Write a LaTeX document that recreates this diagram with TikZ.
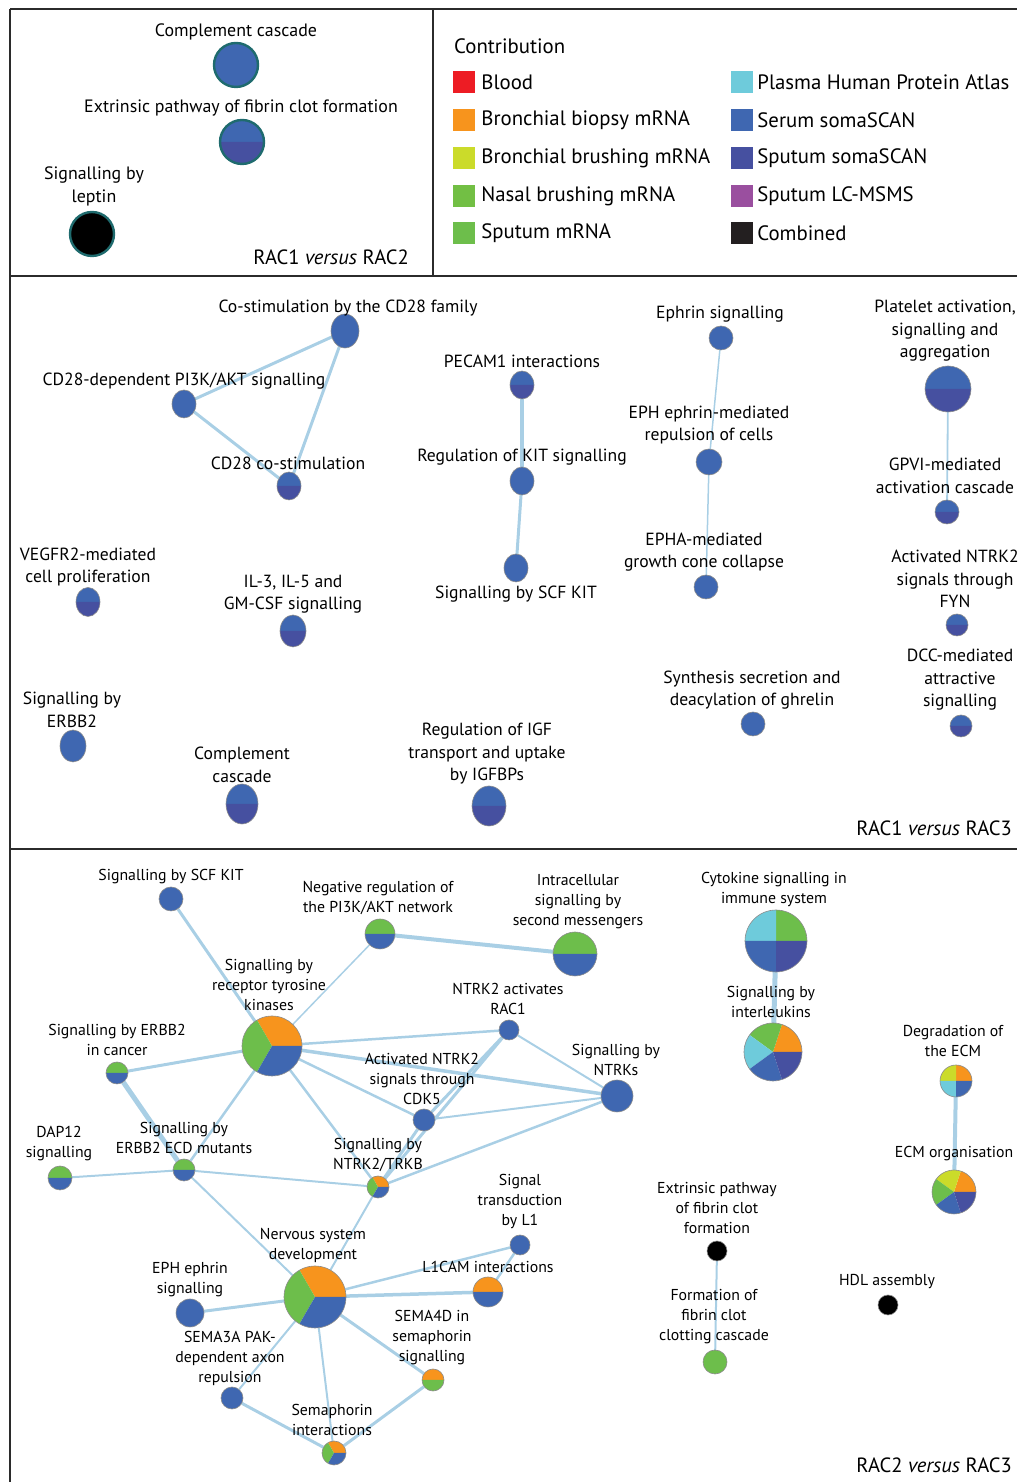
\documentclass[tikz,border=0pt]{standalone}
\usepackage{fontspec}
\setmainfont{PT Sans}
\usetikzlibrary{positioning,backgrounds}

\definecolor{cBlood}{HTML}{ED1C24}
\definecolor{cBiopsy}{HTML}{F7941D}
\definecolor{cBrush}{HTML}{CBDB2A}
\definecolor{cNasal}{HTML}{72BF44}
\definecolor{cSputum}{HTML}{6DBE4B}
\definecolor{cPlasma}{HTML}{6ECBDB}
\definecolor{cSerum}{HTML}{3F67B1}
\definecolor{cSomaSp}{HTML}{4650A0}
\definecolor{cLCMS}{HTML}{9A4F9F}
\definecolor{cComb}{HTML}{231F20}
\definecolor{cEdge}{HTML}{A9CFE5}
\definecolor{cRing}{HTML}{1F6B6E}
\definecolor{cFrame}{HTML}{2B2B2B}

\tikzset{
  pieline/.style={draw=black!45, line width=0.6pt},
  ring/.style={draw=cRing, line width=2.4pt},
  edge/.style={draw=cEdge, line width=#1},
  edge/.default=2pt,
  frame/.style={draw=cFrame, line width=1.5pt},
  lblT/.style={font=\fontsize{17.9}{23}\selectfont, align=center, inner sep=0pt},
  lblM/.style={font=\fontsize{17.6}{22.5}\selectfont, align=center, inner sep=0pt},
  lblB/.style={font=\fontsize{15.8}{20}\selectfont, align=center, inner sep=0pt},
  paneltitle/.style={font=\fontsize{20.6}{24}\selectfont, anchor=east, inner sep=0pt},
  legbox/.style={minimum size=22pt, inner sep=0pt},
  legtxt/.style={font=\fontsize{20.8}{24}\selectfont, inner sep=0pt, anchor=west},
}

% #1 outline style, #2 name, #3 centre, #4 x radius, #5 y radius, #6 slices, #7 colours
\newcommand{\pienode}[7][pieline]{%
  \node[circle, inner sep=0pt, minimum size={2*#4}] (#2) at (#3) {};
  \foreach \col [count=\k from 0] in {#7}
    \fill[\col] (#2.center) -- ++({\k*360/#6}:#4 and #5)
      arc[start angle={\k*360/#6}, delta angle={360/#6}, x radius=#4, y radius=#5] -- cycle;
  \draw[#1] (#2.center) ellipse[x radius=#4, y radius=#5];
}

\begin{document}
\begin{tikzpicture}[x=1pt,y=1pt]
\useasboundingbox (0,0) rectangle (1017,1482);

% frames
\draw[frame] (10,1473) -- (1017,1473);
\draw[frame] (10,1473) -- (10,0);
\draw[frame] (433,1473) -- (433,1206);
\draw[frame] (10,1206) -- (1017,1206);
\draw[frame] (10,633) -- (1017,633);

% RAC1 versus RAC2
\pienode[ring]{ccA}{236,1417}{22}{22}{1}{cSerum}
\pienode[ring]{extA}{242,1340}{22}{22}{2}{cSerum,cSomaSp}
\pienode[ring]{lepA}{92,1248}{22}{22}{1}{black}
\node[lblT] (tccA) at (236,1450) {Complement cascade};
\node[lblT] (textA) at (241,1374) {Extrinsic pathway of fibrin clot formation};
\node[lblT] (tlepA) at (94,1296) {Signalling by\\leptin};
\node[paneltitle] (ttlA) at (409,1225) {RAC1 \textit{versus} RAC2};

% legend
\node[legtxt] (tcontr) at (454,1436) {Contribution};
\node[legbox, fill=cBlood] (kBlood) at (464,1400) {};
\node[legtxt, right=6pt of kBlood] (tBlood) {Blood};
\node[legbox, fill=cBiopsy] (kBiopsy) at (464,1362) {};
\node[legtxt, right=6pt of kBiopsy] (tBiopsy) {Bronchial biopsy mRNA};
\node[legbox, fill=cBrush] (kBrush) at (464,1324) {};
\node[legtxt, right=6pt of kBrush] (tBrush) {Bronchial brushing mRNA};
\node[legbox, fill=cNasal] (kNasal) at (464,1286) {};
\node[legtxt, right=6pt of kNasal] (tNasal) {Nasal brushing mRNA};
\node[legbox, fill=cSputum] (kSputum) at (464,1249) {};
\node[legtxt, right=6pt of kSputum] (tSputum) {Sputum mRNA};
\node[legbox, fill=cPlasma] (kPlasma) at (742,1400) {};
\node[legtxt, right=4pt of kPlasma] (tPlasma) {Plasma Human Protein Atlas};
\node[legbox, fill=cSerum] (kSerum) at (742,1362) {};
\node[legtxt, right=4pt of kSerum] (tSerum) {Serum somaSCAN};
\node[legbox, fill=cSomaSp] (kSomaSp) at (742,1324) {};
\node[legtxt, right=4pt of kSomaSp] (tSomaSp) {Sputum somaSCAN};
\node[legbox, fill=cLCMS] (kLCMS) at (742,1286) {};
\node[legtxt, right=4pt of kLCMS] (tLCMS) {Sputum LC-MSMS};
\node[legbox, fill=cComb] (kComb) at (742,1249) {};
\node[legtxt, right=4pt of kComb] (tComb) {Combined};

% RAC1 versus RAC3
\pienode{costim}{345,1151}{14}{17}{1}{cSerum}
\pienode{cdpi}{184,1078}{12}{14}{1}{cSerum}
\pienode{cdcos}{289,996}{12}{14}{2}{cSerum,cSomaSp}
\pienode{pecam}{522,1097}{12}{14}{2}{cSerum,cSomaSp}
\pienode{regkit}{522,1001}{12}{14}{1}{cSerum}
\pienode{scfkit}{516,914}{12}{14}{1}{cSerum}
\pienode{ephrin}{721,1144}{12}{12}{1}{cSerum}
\pienode{ephrep}{709,1020}{13}{13}{1}{cSerum}
\pienode{epha}{706,895}{12}{12}{1}{cSerum}
\pienode{plat}{948,1093}{23}{23}{2}{cSerum,cSomaSp}
\pienode{gpvi}{947,970}{12}{12}{2}{cSerum,cSomaSp}
\pienode{fyn}{957,857}{11}{11}{2}{cSerum,cSomaSp}
\pienode{dcc}{961,756}{11}{11}{2}{cSerum,cSomaSp}
\pienode{vegf}{88,880}{12}{14.5}{2}{cSerum,cSomaSp}
\pienode{ilgm}{293,851}{13}{16}{2}{cSerum,cSomaSp}
\pienode{erbb}{73,736}{13}{16}{1}{cSerum}
\pienode{ccM}{242,678}{16}{20}{2}{cSerum,cSomaSp}
\pienode{igf}{489,676}{17}{20}{2}{cSerum,cSomaSp}
\pienode{ghrel}{753,758}{12}{12}{1}{cSerum}
\begin{scope}[on background layer]
\draw[edge=3pt] (costim) -- (cdpi);
\draw[edge=3pt] (costim) -- (cdcos);
\draw[edge=3pt] (cdpi) -- (cdcos);
\draw[edge=3.5pt] (pecam) -- (regkit);
\draw[edge=3pt] (regkit) -- (scfkit);
\draw[edge=1.5pt] (ephrin) -- (ephrep);
\draw[edge=1.5pt] (ephrep) -- (epha);
\draw[edge=1.8pt] (plat) -- (gpvi);
\end{scope}
\node[lblM] (tcostim) at (348,1174) {Co-stimulation by the CD28 family};
\node[lblM] (tcdpi) at (184,1101) {CD28-dependent PI3K/AKT signalling};
\node[lblM] (tcdcos) at (288,1019) {CD28 co-stimulation};
\node[lblM] (tpecam) at (522,1121) {PECAM1 interactions};
\node[lblM] (tregkit) at (522,1025) {Regulation of KIT signalling};
\node[lblM] (tscfkit) at (516,888) {Signalling by SCF KIT};
\node[lblM] (tephrin) at (720,1168) {Ephrin signalling};
\node[lblM] (tephrep) at (709,1057) {EPH ephrin-mediated\\repulsion of cells};
\node[lblM] (tepha) at (704,930) {EPHA-mediated\\growth cone collapse};
\node[lblM] (tplat) at (945,1151) {Platelet activation,\\signalling and\\aggregation};
\node[lblM] (tgpvi) at (945,1006) {GPVI-mediated\\activation cascade};
\node[lblM] (tfyn) at (955,903) {Activated NTRK2\\signals through\\FYN};
\node[lblM] (tdcc) at (960,802) {DCC-mediated\\attractive\\signalling};
\node[lblM] (tvegf) at (88,915) {VEGFR2-mediated\\cell proliferation};
\node[lblM] (tilgm) at (293,888) {IL-3, IL-5 and\\GM-CSF signalling};
\node[lblM] (terbb) at (72,772) {Signalling by\\ERBB2};
\node[lblM] (tccM) at (242,717) {Complement\\cascade};
\node[lblM] (tigf) at (487,728) {Regulation of IGF\\transport and uptake\\by IGFBPs};
\node[lblM] (tghrel) at (752,792) {Synthesis secretion and\\deacylation of ghrelin};
\node[paneltitle] (ttlB) at (1012,654) {RAC1 \textit{versus} RAC3};

% RAC2 versus RAC3
\pienode{scfB}{171,583}{12}{12}{1}{cSerum}
\pienode{negreg}{380,548}{15}{15}{2}{cSputum,cSerum}
\pienode{intra}{575,528}{22}{22}{2}{cSputum,cSerum}
\pienode{rtk}{272,436}{30}{30}{3}{cBiopsy,cSputum,cSerum}
\pienode{erbbc}{117,409}{11}{11}{2}{cSputum,cSerum}
\pienode{dap}{60,304}{12}{12}{2}{cSputum,cSerum}
\pienode{ecd}{184,312}{11}{11}{2}{cSputum,cSerum}
\pienode{rac}{509,452}{10}{10}{1}{cSerum}
\pienode{ntrks}{617,386}{16}{16}{1}{cSerum}
\pienode{cdk}{424,362}{11}{11}{1}{cSerum}
\pienode{trkb}{378,295}{11}{11}{3}{cBiopsy,cSputum,cSerum}
\pienode{nsd}{315,185}{31}{31}{3}{cBiopsy,cSputum,cSerum}
\pienode{ephB}{190,169}{14}{14}{1}{cSerum}
\pienode{semaA}{232,84}{11}{11}{1}{cSerum}
\pienode{semint}{334,29}{12}{12}{3}{cBiopsy,cSputum,cSerum}
\pienode{semaD}{433,102}{11}{11}{2}{cBiopsy,cSputum}
\pienode{lcam}{488,190}{15}{15}{2}{cBiopsy,cSerum}
\pienode{lone}{520,237}{10}{10}{1}{cSerum}
\pienode{cyto}{776,541}{31}{31}{4}{cSputum,cPlasma,cSerum,cSomaSp}
\pienode{ilk}{773,430}{29}{29}{5}{cBiopsy,cSputum,cPlasma,cSerum,cSomaSp}
\pienode{degecm}{956,401}{16}{16}{4}{cBiopsy,cBrush,cPlasma,cSerum}
\pienode{ecmorg}{954,290}{22}{22}{5}{cBiopsy,cBrush,cSputum,cSerum,cSomaSp}
\pienode{extB}{717,231}{10}{10}{1}{black}
\pienode{fclot}{715,120}{12}{12}{1}{cSputum}
\pienode{hdl}{888,177}{10}{10}{1}{black}
\begin{scope}[on background layer]
\draw[edge=3pt] (scfB) -- (rtk);
\draw[edge=1.5pt] (negreg) -- (rtk);
\draw[edge=4pt] (negreg) -- (intra);
\draw[edge=3pt] (rtk) -- (erbbc);
\draw[edge=2.5pt] (rtk) -- (rac);
\draw[edge=3.5pt] (rtk) -- (ntrks);
\draw[edge=2.5pt] (rtk) -- (cdk);
\draw[edge=2.5pt] (rtk) -- (trkb);
\draw[edge=2.5pt] (rtk) -- (ecd);
\draw[edge=5pt] (erbbc) -- (ecd);
\draw[edge=2pt] (dap) -- (ecd);
\draw[edge=2pt] (ecd) -- (trkb);
\draw[edge=2pt] (ecd) -- (nsd);
\draw[edge=2pt] (trkb) -- (nsd);
\draw[edge=2pt] (rac) -- (ntrks);
\draw[edge=3pt] (rac) -- (cdk);
\draw[edge=3pt] (rac) -- (trkb);
\draw[edge=2pt] (cdk) -- (ntrks);
\draw[edge=3pt] (cdk) -- (trkb);
\draw[edge=2.5pt] (trkb) -- (ntrks);
\draw[edge=3pt] (nsd) -- (ephB);
\draw[edge=3.5pt] (nsd) -- (lcam);
\draw[edge=2.5pt] (nsd) -- (lone);
\draw[edge=2.5pt] (lcam) -- (lone);
\draw[edge=2pt] (nsd) -- (semaA);
\draw[edge=2pt] (nsd) -- (semint);
\draw[edge=3pt] (nsd) -- (semaD);
\draw[edge=3pt] (semaA) -- (semint);
\draw[edge=3pt] (semaD) -- (semint);
\draw[edge=5pt] (cyto) -- (ilk);
\draw[edge=4pt] (degecm) -- (ecmorg);
\draw[edge=2pt] (extB) -- (fclot);
\end{scope}
\node[lblB] (tscfB) at (171,605) {Signalling by SCF KIT};
\node[lblB] (tnegreg) at (378,584) {Negative regulation of\\the PI3K/AKT network};
\node[lblB] (tintra) at (578,580) {Intracellular\\signalling by\\second messengers};
\node[lblB] (trtk) at (269,497) {Signalling by\\receptor tyrosine\\kinases};
\node[lblB] (terbbc) at (117,442) {Signalling by ERBB2\\in cancer};
\node[lblB] (tdap) at (59,338) {DAP12\\signalling};
\node[lblB] (tecd) at (184,344) {Signalling by\\ERBB2 ECD mutants};
\node[lblB] (trac) at (508,483) {NTRK2 activates\\RAC1};
\node[lblB] (tntrks) at (616,422) {Signalling by\\NTRKs};
\node[lblB] (tcdk) at (422,403) {Activated NTRK2\\signals through\\CDK5};
\node[lblB] (ttrkb) at (378,327) {Signalling by\\NTRK2/TRKB};
\node[lblB] (tnsd) at (313,237) {Nervous system\\development};
\node[lblB] (tephB) at (190,202) {EPH ephrin\\signalling};
\node[lblB] (tsemaA) at (230,124) {SEMA3A PAK-\\dependent axon\\repulsion};
\node[lblB] (tsemint) at (332,62) {Semaphorin\\interactions};
\node[lblB] (tsemaD) at (432,144) {SEMA4D in\\semaphorin\\signalling};
\node[lblB] (tlcam) at (488,215) {L1CAM interactions};
\node[lblB] (tlone) at (520,281) {Signal\\transduction\\by L1};
\node[lblB] (tcyto) at (774,592) {Cytokine signalling in\\immune system};
\node[lblB] (tilk) at (771,480) {Signalling by\\interleukins};
\node[lblB] (tdegecm) at (953,441) {Degradation of\\the ECM};
\node[lblB] (tecmorg) at (954,328) {ECM organisation};
\node[lblB] (textB) at (717,274) {Extrinsic pathway\\of fibrin clot\\formation};
\node[lblB] (tfclot) at (714,165) {Formation of\\fibrin clot\\clotting cascade};
\node[lblB] (thdl) at (887,200) {HDL assembly};
\node[paneltitle] (ttlC) at (1012,17) {RAC2 \textit{versus} RAC3};
\end{tikzpicture}
\end{document}
